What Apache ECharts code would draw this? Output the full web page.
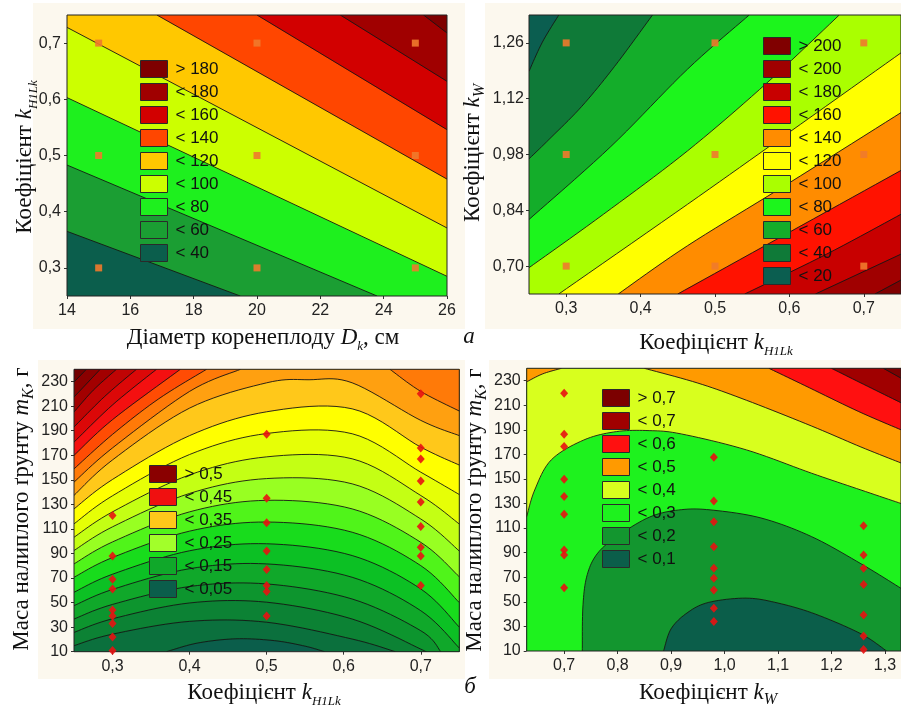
<!DOCTYPE html>
<html>
<head>
<meta charset="utf-8">
<title>contours</title>
<script src="https://cdn.jsdelivr.net/npm/echarts@6/dist/echarts.min.js"></script>
<style>
  html, body { margin: 0; padding: 0; background: #fff; }
  #main { width: 901px; height: 708px; }
</style>
</head>
<body>
<div id="main"></div>
<script>
// ---------- panel а, left: D_k (cm) vs k_H1Lk ----------
const aXTicks = [14, 16, 18, 20, 22, 24, 26];
const aYTicks = [0.3, 0.4, 0.5, 0.6, 0.7];
const aBandNames = ['< 40', '< 60', '< 80', '< 100', '< 120', '< 140', '< 160', '< 180', '> 180'];
const aBandColors = ['#0b5e4c', '#1b9e33', '#1ef01e', '#ccff00', '#ffc800', '#ff4600', '#d20000', '#a00000', '#7e0000'];
const aLines = [
  [[14, 0.365], [19.47, 0.25]],
  [[14, 0.483], [23.79, 0.25]],
  [[14, 0.603], [26, 0.285]],
  [[14, 0.728], [26, 0.371]],
  [[16.84, 0.75], [26, 0.458]],
  [[20.0, 0.75], [26, 0.546]],
  [[22.63, 0.75], [26, 0.632]],
  [[25.26, 0.75], [26, 0.718]]
];
const aLineBand = [1, 2, 3, 4, 5, 6, 7, 8];
const aPoints = [[15, 0.3], [15, 0.5], [15, 0.7], [20, 0.3], [20, 0.5], [20, 0.7], [25, 0.3], [25, 0.5], [25, 0.7]];

// ---------- panel а, right: k_H1Lk vs k_W ----------
const bXTicks = [0.3, 0.4, 0.5, 0.6, 0.7];
const bYTicks = [0.70, 0.84, 0.98, 1.12, 1.26];
const bBandNames = ['< 20', '< 40', '< 60', '< 80', '< 100', '< 120', '< 140', '< 160', '< 180', '< 200', '> 200'];
const bBandColors = ['#0b5e50', '#0f7a38', '#14ad2a', '#1cf51c', '#aaff00', '#ffff00', '#ff8c00', '#ff1200', '#c80000', '#a00000', '#800000'];
const bLines = [
  [[0.25, 1.189], [0.268, 1.262], [0.29, 1.33]],
  [[0.25, 0.969], [0.277, 1.018], [0.321, 1.101], [0.365, 1.201], [0.416, 1.33]],
  [[0.25, 0.817], [0.36, 1.0], [0.463, 1.194], [0.546, 1.33]],
  [[0.25, 0.696], [0.35, 0.83], [0.463, 0.989], [0.57, 1.16], [0.667, 1.33]],
  [[0.29, 0.63], [0.463, 0.855], [0.6, 1.036], [0.75, 1.235]],
  [[0.37, 0.63], [0.463, 0.751], [0.6, 0.909], [0.75, 1.085]],
  [[0.45, 0.63], [0.6, 0.785], [0.75, 0.94]],
  [[0.54, 0.63], [0.65, 0.73], [0.75, 0.83]],
  [[0.635, 0.63], [0.75, 0.73]],
  [[0.715, 0.63], [0.75, 0.665]]
];
const bLineBand = [1, 2, 3, 4, 5, 6, 7, 8, 9, 10];
const bPoints = [[0.3, 0.70], [0.3, 0.98], [0.3, 1.26], [0.5, 0.70], [0.5, 0.98], [0.5, 1.26], [0.7, 0.70], [0.7, 0.98], [0.7, 1.26]];

// ---------- panel б, left: k_H1Lk vs m_K ----------
const cXTicks = [0.3, 0.4, 0.5, 0.6, 0.7];
const cYTicks = [10, 30, 50, 70, 90, 110, 130, 150, 170, 190, 210, 230];
const cBandNames = ['< 0,05', null, null, null, '< 0,15', null, null, null, '< 0,25', null, null, null,
  '< 0,35', null, null, null, '< 0,45', null, null, '> 0,5', null, null];
const cBandColors = ['#0b5e4b', '#0b703d', '#0c8234', '#0d952e', '#10a82a', '#0cc024', '#18dc1c', '#50f41a',
  '#98ff22', '#c4ff14', '#e6ff06', '#ffff00', '#ffc81a', '#ffa010', '#ff7a08', '#ff4c04',
  '#f41010', '#dc0808', '#c00404', '#a20000', '#8a0000', '#740000'];
const cLegendNames = ['> 0,5', '< 0,45', '< 0,35', '< 0,25', '< 0,15', '< 0,05'];
const cLegendColors = ['#8a0000', '#f01010', '#ffc81a', '#a2ff2a', '#10a82a', '#0b5e4b'];
const cLines = [
  [[0.37, 10], [0.41, 17], [0.46, 20.5], [0.51, 19], [0.55, 14.5], [0.575, 10]],
  [[0.25, 14.9], [0.3, 24.3], [0.4, 34.7], [0.5, 34.0], [0.611, 20.3], [0.667, 10]],
  [[0.25, 25.7], [0.3, 36.8], [0.4, 49.7], [0.5, 50.3], [0.611, 36.6], [0.7, 12.1], [0.703, 10]],
  [[0.25, 36.6], [0.3, 48.5], [0.4, 63.1], [0.5, 65.2], [0.611, 52.9], [0.7, 27.1], [0.726, 10]],
  [[0.25, 47.5], [0.3, 60.7], [0.4, 77.6], [0.5, 81.5], [0.611, 70.6], [0.7, 43.4], [0.75, 13]],
  [[0.25, 58.4], [0.3, 73.1], [0.4, 92.2], [0.5, 97.9], [0.611, 88.3], [0.7, 61.1], [0.75, 30]],
  [[0.25, 70.6], [0.3, 86.7], [0.4, 108.2], [0.5, 115.6], [0.611, 107.3], [0.7, 80.1], [0.75, 50]],
  [[0.25, 81.5], [0.3, 99.4], [0.4, 123.9], [0.5, 133.3], [0.611, 126.3], [0.7, 99.1], [0.75, 71]],
  [[0.25, 92.4], [0.3, 111.7], [0.4, 138.9], [0.5, 151.0], [0.611, 146.7], [0.7, 118.1], [0.75, 92]],
  [[0.25, 103.2], [0.3, 123.9], [0.4, 154.0], [0.5, 168.7], [0.611, 167.1], [0.7, 137.2], [0.75, 114]],
  [[0.25, 114.1], [0.3, 137.0], [0.4, 170.6], [0.5, 187.7], [0.611, 187.5], [0.7, 156.2], [0.75, 138]],
  [[0.25, 126.3], [0.3, 150.3], [0.4, 186.0], [0.5, 205.4], [0.611, 207.8], [0.7, 176.6], [0.75, 162]],
  [[0.25, 137.3], [0.3, 166.2], [0.4, 208.4], [0.5, 229.0], [0.555, 231.5], [0.611, 229.0], [0.7, 198.4], [0.75, 186]],
  [[0.25, 148.1], [0.3, 176], [0.4, 222], [0.466, 240]],
  [[0.66, 240], [0.7, 222], [0.75, 206]],
  [[0.25, 158.9], [0.3, 187], [0.36, 216], [0.422, 240]],
  [[0.25, 169.9], [0.3, 199], [0.388, 240]],
  [[0.25, 180.7], [0.3, 211], [0.357, 240]],
  [[0.25, 193], [0.29, 218], [0.331, 240]],
  [[0.25, 205.2], [0.275, 223], [0.305, 240]],
  [[0.25, 217.4], [0.284, 240]],
  [[0.25, 229.6], [0.266, 240]]
];
const cLineBand = [1, 2, 3, 4, 5, 6, 7, 8, 9, 10, 11, 12, 13, 14, 14, 15, 16, 17, 18, 19, 20, 21];
const cPoints = [
  [0.3, 121], [0.3, 88], [0.3, 69], [0.3, 61], [0.3, 44], [0.3, 39], [0.3, 33], [0.3, 22], [0.3, 11],
  [0.5, 187], [0.5, 135], [0.5, 115], [0.5, 92], [0.5, 77], [0.5, 64], [0.5, 59], [0.5, 39],
  [0.7, 220], [0.7, 176], [0.7, 167], [0.7, 149], [0.7, 132], [0.7, 112], [0.7, 95], [0.7, 88], [0.7, 64]
];

// ---------- panel б, right: k_W vs m_K ----------
const dXTicks = [0.7, 0.8, 0.9, 1.0, 1.1, 1.2, 1.3];
const dYTicks = [10, 30, 50, 70, 90, 110, 130, 150, 170, 190, 210, 230];
const dBandNames = ['< 0,1', '< 0,2', '< 0,3', '< 0,4', '< 0,5', '< 0,6', '< 0,7', '> 0,7'];
const dBandColors = ['#0b5e4a', '#13962f', '#1ef21e', '#d8ff1e', '#ff9a00', '#ff1010', '#a00000', '#7c0000'];
const dLines = [
  [[0.886, 10], [0.9, 28], [0.93, 41], [0.97, 49.5], [1.04, 53], [1.1, 49], [1.17, 40], [1.255, 24], [1.303, 10]],
  [[0.734, 10], [0.735, 45], [0.742, 70], [0.76, 88], [0.795, 102], [0.86, 119], [0.92, 125], [0.98, 124.5],
    [1.07, 118], [1.163, 103], [1.255, 81], [1.33, 61]],
  [[0.63, 119.3], [0.645, 141], [0.676, 165.5], [0.737, 181.7], [0.798, 188.5], [0.859, 189.3], [0.919, 186.6],
    [1.041, 173.6], [1.163, 154.6], [1.255, 141], [1.33, 130]],
  [[0.63, 229], [0.66, 235.5], [0.695, 240]],
  [[0.85, 240], [0.95, 228], [1.041, 214], [1.163, 193], [1.255, 176], [1.33, 163]],
  [[1.083, 240], [1.15, 226], [1.25, 205], [1.33, 190]],
  [[1.2, 240], [1.26, 227], [1.33, 212]],
  [[1.297, 240], [1.33, 232]]
];
const dLineBand = [1, 2, 3, 4, 4, 5, 6, 7];
const dPoints = [
  [0.7, 219.7], [0.7, 186.3], [0.7, 176.3], [0.7, 149.7], [0.7, 135.6], [0.7, 121.2], [0.7, 92.2], [0.7, 88.1], [0.7, 61.5],
  [0.98, 167.6], [0.98, 132.1], [0.98, 115.2], [0.98, 94.9], [0.98, 77.3], [0.98, 69.1], [0.98, 59.6], [0.98, 44.7], [0.98, 33.9],
  [1.26, 112], [1.26, 88.1], [1.26, 77.3], [1.26, 64.2], [1.26, 39.3], [1.26, 22.2], [1.26, 11.3]
];

const FONT = '"Liberation Sans", Arial, sans-serif';
const SERIF = '"Liberation Serif", "Times New Roman", "DejaVu Serif", serif';

const chart = echarts.init(document.getElementById('main'));

// smooth a pixel polyline (catmull-rom), drawing only
function smoothLine(pts) {
  if (pts.length < 3) return pts.slice();
  const out = [];
  const n = pts.length;
  for (let i = 0; i < n - 1; i++) {
    const p0 = pts[i === 0 ? 0 : i - 1], p1 = pts[i], p2 = pts[i + 1], p3 = pts[i + 2 < n ? i + 2 : n - 1];
    for (let s = 0; s < 10; s++) {
      const t = s / 10, t2 = t * t, t3 = t2 * t;
      out.push([0, 1].map(k => 0.5 * (2 * p1[k] + (-p0[k] + p2[k]) * t +
        (2 * p0[k] - 5 * p1[k] + 4 * p2[k] - p3[k]) * t2 + (-p0[k] + 3 * p1[k] - 3 * p2[k] + p3[k]) * t3)));
    }
  }
  out.push(pts[n - 1]);
  return out;
}

// position of a border point along the plot frame, clockwise from top-left corner
function perim(p, r) {
  const dl = Math.abs(p[0] - r.x), dr = Math.abs(p[0] - r.x - r.width);
  const dt = Math.abs(p[1] - r.y), db = Math.abs(p[1] - r.y - r.height);
  const m = Math.min(dl, dr, dt, db);
  if (m === dt) return (p[0] - r.x) / r.width;
  if (m === dr) return 1 + (p[1] - r.y) / r.height;
  if (m === db) return 2 + (r.x + r.width - p[0]) / r.width;
  return 3 + (r.y + r.height - p[1]) / r.height;
}
function corner(c, r) {
  c = ((c % 4) + 4) % 4;
  return [[r.x, r.y], [r.x + r.width, r.y], [r.x + r.width, r.y + r.height], [r.x, r.y + r.height]][c];
}
function frameWalk(tA, tB, cw, r) {
  const res = [];
  if (cw) {
    const end = tA > tB ? tA : tA + 4;
    for (let c = Math.floor(tB) + 1; c < end; c++) res.push(corner(c, r));
  } else {
    const end = tA < tB ? tA : tA - 4;
    for (let c = Math.ceil(tB) - 1; c > end; c--) res.push(corner(c, r));
  }
  return res;
}

function bgSeries(g, color, name, start) {
  return {
    type: 'custom', name: name || undefined, xAxisIndex: g, yAxisIndex: g, silent: true, clip: true, z: 2,
    data: [start],
    renderItem: function (params) {
      const r = params.coordSys;
      return { type: 'rect', z2: -1, shape: { x: r.x, y: r.y, width: r.width, height: r.height }, style: { fill: color } };
    }
  };
}

function bandSeries(g, pts, color, name, cw, order) {
  return {
    type: 'custom', name: name || undefined, xAxisIndex: g, yAxisIndex: g, silent: true, clip: true, z: 2,
    data: [pts[0]],
    renderItem: function (params, api) {
      const r = params.coordSys;
      const raw = pts.map(p => api.coord(p));
      const line = smoothLine(raw);
      const poly = line.concat(frameWalk(perim(raw[0], r), perim(raw[raw.length - 1], r), cw, r));
      return {
        type: 'group',
        children: [
          { type: 'polygon', z2: order * 2, shape: { points: poly }, style: { fill: color, stroke: color, lineWidth: 0.4 } },
          { type: 'polyline', z2: order * 2 + 1, shape: { points: line }, style: { stroke: '#151515', lineWidth: 0.9, fill: null } }
        ]
      };
    }
  };
}

function frameSeries(g, start) {
  return {
    type: 'custom', xAxisIndex: g, yAxisIndex: g, silent: true, z: 3, data: [start],
    renderItem: function (params) {
      const r = params.coordSys;
      return { type: 'rect', shape: { x: r.x, y: r.y, width: r.width, height: r.height },
        style: { fill: null, stroke: '#222', lineWidth: 1 } };
    }
  };
}

function panel(g, lines, lineBand, colors, names, cw, start) {
  const list = [bgSeries(g, colors[0], names[0], start)];
  lines.forEach((pts, i) => list.push(bandSeries(g, pts, colors[lineBand[i]], names[lineBand[i]], cw, i + 1)));
  list.push(frameSeries(g, start));
  return list;
}

function axis(g, min, max, ticks, digits, margin) {
  return {
    type: 'value', gridIndex: g, min: min, max: max,
    axisLine: { show: false }, splitLine: { show: false },
    axisTick: { show: true, inside: false, length: 3, customValues: ticks, lineStyle: { color: '#333' } },
    axisLabel: {
      customValues: ticks, margin: margin, fontSize: 16, fontFamily: FONT, color: '#222',
      formatter: v => v.toFixed(digits).replace('.', ',')
    }
  };
}

function legend(names, colors, left, top) {
  return {
    orient: 'vertical', left: left, top: top, padding: 0, itemWidth: 27, itemHeight: 17, itemGap: 5,
    icon: 'rect', selectedMode: false, z: 6,
    textStyle: { fontSize: 17, fontFamily: FONT, color: '#111', lineHeight: 17, padding: [0, 0, 0, 3] },
    data: names.map((n, i) => ({ name: n, itemStyle: { color: colors[i], borderColor: '#2a2a2a', borderWidth: 1 } }))
  };
}

const RICH = {
  n: { fontSize: 23, fontFamily: SERIF, lineHeight: 30, fill: '#111' },
  i: { fontSize: 23, fontFamily: SERIF, fontStyle: 'italic', lineHeight: 30, fill: '#111' },
  s: { fontSize: 13, fontFamily: SERIF, fontStyle: 'italic', lineHeight: 13, verticalAlign: 'bottom', fill: '#111' },
  w: { fontSize: 16, fontFamily: SERIF, fontStyle: 'italic', lineHeight: 16, verticalAlign: 'bottom', fill: '#111' }
};
function title(x, y, text, rot) {
  return {
    type: 'text', x: x, y: y, rotation: rot || 0, z: 20,
    style: { text: text, rich: RICH, fontSize: 23, fontFamily: SERIF, fill: '#111', align: 'center', verticalAlign: 'middle' }
  };
}
function cream(x, y, w, h) {
  return { type: 'rect', z: -10, shape: { x: x, y: y, width: w, height: h }, style: { fill: '#fcf8ee' } };
}

const scatterStyle = (g, data, symbol, size, color) => ({
  type: 'scatter', xAxisIndex: g, yAxisIndex: g, data: data, symbol: symbol, symbolSize: size,
  silent: true, z: 5, itemStyle: { color: color, opacity: 0.9 }
});

const option = {
  backgroundColor: '#ffffff',
  animation: false,
  grid: [
    { left: 67, top: 15, width: 380, height: 281 },
    { left: 529, top: 15, width: 377.5, height: 279 },
    { left: 74, top: 369.3, width: 385.3, height: 282.4 },
    { left: 526.7, top: 368.3, width: 383, height: 282.7 }
  ],
  xAxis: [
    axis(0, 14, 26, aXTicks, 0, 7),
    axis(1, 0.25, 0.75, bXTicks, 1, 7),
    axis(2, 0.25, 0.75, cXTicks, 1, 7),
    axis(3, 0.63, 1.33, dXTicks, 1, 7)
  ],
  yAxis: [
    axis(0, 0.25, 0.75, aYTicks, 1, 6),
    axis(1, 0.63, 1.33, bYTicks, 2, 5),
    axis(2, 10, 240, cYTicks, 0, 6),
    axis(3, 10, 240, dYTicks, 0, 6)
  ],
  legend: [
    legend(aBandNames.slice().reverse(), aBandColors.slice().reverse(), 140, 60),
    legend(bBandNames.slice().reverse(), bBandColors.slice().reverse(), 763, 37),
    legend(cLegendNames, cLegendColors, 149, 465),
    legend(dBandNames.slice().reverse(), dBandColors.slice().reverse(), 602, 389)
  ],
  graphic: [
    cream(33, 3, 432, 326), cream(485, 3, 416, 326), cream(38, 360, 427, 319), cream(489, 360, 412, 319),
    title(263, 338, '{n|Діаметр коренеплоду }{i|D}{s|k}{n|, см}'),
    title(469, 337, '{i|а}'),
    title(716, 343, '{n|Коефіцієнт }{i|k}{s|H1Lk}'),
    title(25, 157, '{n|Коефіцієнт }{i|k}{s|H1Lk}', Math.PI / 2),
    title(473, 153, '{n|Коефіцієнт }{i|k}{w|W}', Math.PI / 2),
    title(264, 693, '{n|Коефіцієнт }{i|k}{s|H1Lk}'),
    title(470, 687, '{i|б}'),
    title(708, 693, '{n|Коефіцієнт }{i|k}{w|W}'),
    title(22, 509, '{n|Маса налиплого ґрунту }{i|m}{w|K}{n|, г}', Math.PI / 2),
    title(475, 510, '{n|Маса налиплого ґрунту }{i|m}{w|K}{n|, г}', Math.PI / 2)
  ],
  series: [].concat(
    panel(0, aLines, aLineBand, aBandColors, aBandNames, false, [14, 0.25]),
    panel(1, bLines, bLineBand, bBandColors, bBandNames, true, [0.25, 0.63]),
    panel(2, cLines, cLineBand, cBandColors, cBandNames, false, [0.25, 10]),
    panel(3, dLines, dLineBand, dBandColors, dBandNames, false, [0.63, 10]),
    [
      scatterStyle(0, aPoints, 'rect', 7, '#f07a2c'),
      scatterStyle(1, bPoints, 'rect', 7, '#f07a2c'),
      scatterStyle(2, cPoints, 'diamond', [8, 9], '#e81212'),
      scatterStyle(3, dPoints, 'diamond', [8, 9], '#e81212')
    ]
  )
};

chart.setOption(option);
</script>
</body>
</html>
